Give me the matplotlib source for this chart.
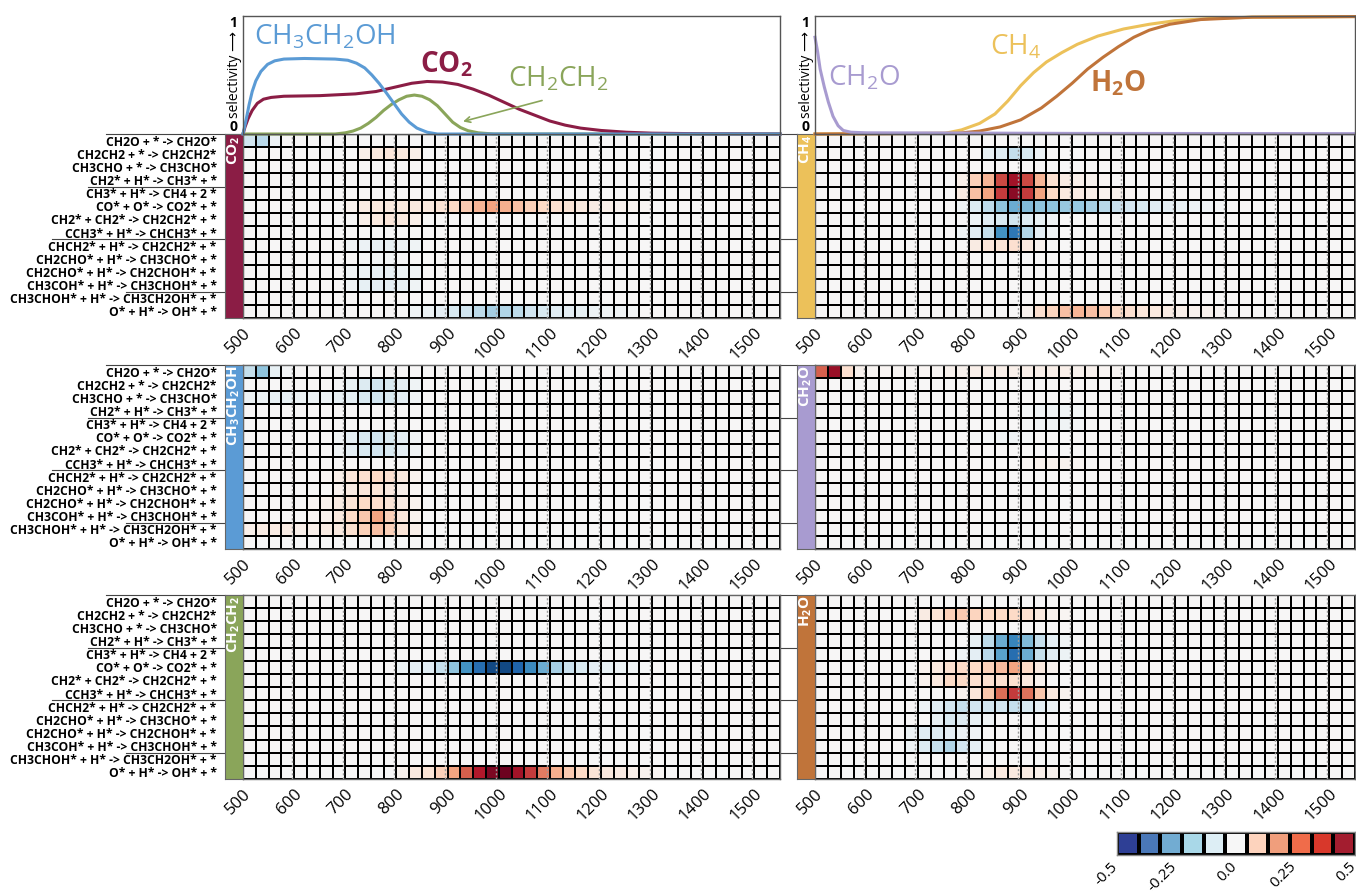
import numpy as np
import matplotlib
matplotlib.use('Agg')
import matplotlib.pyplot as plt
import matplotlib.transforms as mtransforms
from matplotlib.lines import Line2D
from matplotlib.colors import ListedColormap

plt.rcParams['font.family'] = ['Open Sans', 'DejaVu Sans']
plt.rcParams['mathtext.fontset'] = 'custom'
plt.rcParams['mathtext.rm'] = 'Open Sans'
plt.rcParams['mathtext.bf'] = 'Open Sans:bold'
plt.rcParams['mathtext.it'] = 'Open Sans:italic'
plt.rcParams['mathtext.default'] = 'regular'

# ---------------- data ----------------
reactions = [
    "CH2O + * -> CH2O*",
    "CH2CH2 + * -> CH2CH2*",
    "CH3CHO + * -> CH3CHO*",
    "CH2* + H* -> CH3* + *",
    "CH3* + H* -> CH4 + 2 *",
    "CO* + O* -> CO2* + *",
    "CH2* + CH2* -> CH2CH2* + *",
    "CCH3* + H* -> CHCH3* + *",
    "CHCH2* + H* -> CH2CH2* + *",
    "CH2CHO* + H* -> CH3CHO* + *",
    "CH2CHO* + H* -> CH2CHOH* + *",
    "CH3COH* + H* -> CH3CHOH* + *",
    "CH3CHOH* + H* -> CH3CH2OH* + *",
    "O* + H* -> OH* + *",
]
t_step = 25
t_start, t_end = 500, 1550
temp_ticks = [500, 600, 700, 800, 900, 1000, 1100, 1200, 1300, 1400, 1500]

# sensitivity cells: row -> (first temperature, values of consecutive cells); other cells are 0
co2_sens = {
    0: (500, [-0.10, -0.14, -0.03]),
    1: (725, [0.03, 0.05, 0.06, 0.05, 0.03]),
    5: (700, [0.02, 0.04, 0.05, 0.05, 0.05, 0.05, 0.05, 0.07, 0.10, 0.13, 0.17, 0.20,
              0.18, 0.15, 0.12, 0.10, 0.08, 0.07, 0.05, 0.04, 0.03, 0.02, 0.015, 0.01]),
    6: (725, [0.03, 0.05, 0.06, 0.05, 0.03]),
    8: (700, [-0.02, -0.03, -0.04, -0.04, -0.03, -0.02]),
    9: (725, [-0.01, -0.02, -0.02, -0.01]),
    10: (700, [-0.02, -0.03, -0.04, -0.04, -0.03, -0.02]),
    11: (700, [-0.02, -0.04, -0.05, -0.05, -0.04, -0.02]),
    13: (825, [-0.02, -0.03, -0.05, -0.08, -0.10, -0.13, -0.17, -0.15, -0.13, -0.10,
               -0.08, -0.06, -0.05, -0.04, -0.03, -0.02, -0.02, -0.01]),
}
ch3ch2oh_sens = {
    0: (500, [-0.12, -0.20, -0.04, -0.01]),
    1: (675, [-0.01, -0.04, -0.07, -0.10, -0.08, -0.05, -0.02]),
    2: (500, [-0.03, -0.03, -0.04, -0.04, -0.03, -0.03, -0.03, -0.04, -0.05, -0.08,
              -0.10, -0.08, -0.05, -0.02]),
    5: (675, [-0.02, -0.05, -0.08, -0.10, -0.08, -0.05, -0.02]),
    6: (675, [-0.02, -0.05, -0.08, -0.10, -0.08, -0.05, -0.02]),
    8: (650, [0.01, 0.03, 0.06, 0.08, 0.10, 0.08, 0.05, 0.02]),
    9: (675, [0.02, 0.04, 0.06, 0.07, 0.05, 0.03, 0.01]),
    10: (625, [0.01, 0.02, 0.04, 0.07, 0.10, 0.09, 0.07, 0.04, 0.02]),
    11: (625, [0.01, 0.02, 0.05, 0.10, 0.14, 0.20, 0.12, 0.06, 0.02]),
    12: (500, [0.03, 0.04, 0.04, 0.04, 0.03, 0.03, 0.04, 0.05, 0.08, 0.12, 0.15, 0.12,
               0.07, 0.03]),
}
ch2ch2_sens = {
    5: (800, [-0.03, -0.05, -0.06, -0.12, -0.20, -0.30, -0.38, -0.45, -0.45, -0.40,
              -0.32, -0.25, -0.17, -0.11, -0.08, -0.05, -0.04, -0.03, -0.02, -0.01]),
    13: (800, [0.02, 0.05, 0.07, 0.12, 0.20, 0.30, 0.40, 0.47, 0.49, 0.42, 0.35, 0.26,
               0.18, 0.13, 0.10, 0.07, 0.05, 0.04, 0.03, 0.02, 0.01]),
}
ch4_sens = {
    1: (825, [-0.04, -0.07, -0.12, -0.08, -0.03]),
    3: (775, [0.03, 0.12, 0.17, 0.33, 0.42, 0.33, 0.17, 0.08, 0.04, 0.03, 0.02, 0.01]),
    4: (775, [0.04, 0.15, 0.20, 0.35, 0.45, 0.35, 0.20, 0.10, 0.05, 0.04, 0.03, 0.02,
              0.02, 0.01]),
    5: (775, [-0.02, -0.07, -0.13, -0.20, -0.25, -0.22, -0.20, -0.20, -0.19, -0.19,
              -0.17, -0.14, -0.11, -0.09, -0.08, -0.06, -0.05, -0.04, -0.03, -0.02, -0.01]),
    6: (800, [-0.03, -0.06, -0.08, -0.10, -0.07, -0.04, -0.02]),
    7: (775, [-0.02, -0.06, -0.12, -0.30, -0.36, -0.15, -0.05, -0.02]),
    8: (800, [0.04, 0.06, 0.07, 0.08, 0.05, 0.02]),
    13: (900, [0.02, 0.08, 0.11, 0.15, 0.17, 0.15, 0.13, 0.10, 0.08, 0.06, 0.05, 0.04,
               0.03, 0.02, 0.02, 0.01]),
}
ch2o_sens = {
    0: (500, [0.30, 0.43, 0.08, 0.02, 0.01, 0.01, 0.01, 0.01, 0.01, 0.01, 0.02, 0.02,
              0.03, 0.03, 0.03, 0.03, 0.03, 0.03, 0.03, 0.03, 0.02, 0.02, 0.01, 0.01]),
    3: (900, [-0.01, -0.02, -0.02, -0.02, -0.01]),
    4: (900, [-0.01, -0.02, -0.02, -0.02, -0.01]),
    5: (800, [-0.01, -0.01, -0.02, -0.02, -0.01]),
    7: (900, [0.01, 0.02, 0.02, 0.02, 0.01]),
}
h2o_sens = {
    1: (675, [0.01, 0.04, 0.07, 0.12, 0.13, 0.11, 0.10, 0.10, 0.10, 0.08, 0.05, 0.02, 0.01]),
    3: (800, [-0.04, -0.13, -0.25, -0.33, -0.22, -0.12, -0.05, -0.02]),
    4: (775, [-0.02, -0.05, -0.14, -0.27, -0.38, -0.25, -0.12, -0.06, -0.03]),
    5: (700, [0.02, 0.05, 0.08, 0.10, 0.10, 0.12, 0.16, 0.20, 0.10, 0.05, 0.02]),
    6: (700, [0.02, 0.05, 0.10, 0.10, 0.08, 0.08, 0.08, 0.08, 0.05, 0.02]),
    7: (775, [0.02, 0.06, 0.14, 0.28, 0.35, 0.27, 0.14, 0.05, 0.02, 0.01]),
    8: (700, [-0.03, -0.06, -0.10, -0.12, -0.10, -0.10, -0.10, -0.12, -0.08, -0.05, -0.03]),
    9: (725, [-0.04, -0.08, -0.07, -0.04, -0.02]),
    10: (675, [-0.03, -0.06, -0.07, -0.05, -0.03, -0.02]),
    11: (675, [-0.03, -0.07, -0.12, -0.15, -0.09, -0.05, -0.02]),
    13: (800, [0.01, 0.03, 0.05, 0.05, 0.04, 0.03, 0.02]),
}

# selectivity curves (temperature, selectivity)
ch3ch2oh_T = [500, 503, 507, 512, 518, 525, 535, 548, 562, 580, 620, 680, 705, 722, 738,
              752, 766, 780, 795, 810, 825, 840, 860, 880, 1550]
ch3ch2oh_S = [0.0, 0.06, 0.14, 0.25, 0.36, 0.45, 0.53, 0.59, 0.62, 0.635, 0.64, 0.635,
              0.625, 0.60, 0.56, 0.50, 0.43, 0.35, 0.26, 0.17, 0.10, 0.05, 0.015, 0.0, 0.0]
co2_T = [500, 504, 510, 518, 528, 540, 555, 580, 650, 720, 760, 800, 830, 860, 890, 920,
         950, 980, 1010, 1040, 1070, 1100, 1130, 1160, 1200, 1250, 1300, 1400, 1550]
co2_S = [0.0, 0.06, 0.13, 0.20, 0.26, 0.295, 0.31, 0.32, 0.325, 0.34, 0.36, 0.40, 0.43,
         0.445, 0.44, 0.42, 0.38, 0.33, 0.27, 0.21, 0.16, 0.11, 0.075, 0.05, 0.03, 0.015,
         0.007, 0.002, 0.0]
ch2ch2_T = [500, 680, 700, 715, 730, 745, 760, 775, 790, 805, 820, 835, 850, 865, 880,
            895, 910, 925, 940, 960, 990, 1550]
ch2ch2_S = [0.0, 0.0, 0.01, 0.025, 0.05, 0.09, 0.14, 0.20, 0.25, 0.29, 0.32, 0.33, 0.32,
            0.29, 0.24, 0.17, 0.10, 0.055, 0.028, 0.01, 0.0, 0.0]
ch2o_T = [500, 505, 510, 518, 526, 535, 545, 555, 570, 600, 800, 1000, 1550]
ch2o_S = [0.82, 0.70, 0.55, 0.40, 0.27, 0.15, 0.07, 0.03, 0.015, 0.01, 0.008, 0.005, 0.003]
ch4_T = [500, 753, 785, 820, 850, 875, 900, 925, 950, 980, 1010, 1050, 1100, 1150, 1200,
         1270, 1350, 1550]
ch4_S = [0.0, 0.006, 0.035, 0.09, 0.17, 0.28, 0.41, 0.52, 0.61, 0.69, 0.76, 0.83, 0.89,
         0.93, 0.96, 0.98, 0.99, 0.995]
h2o_T = [500, 777, 820, 860, 900, 940, 970, 1000, 1030, 1060, 1090, 1120, 1150, 1190,
         1250, 1350, 1550]
h2o_S = [0.0, 0.006, 0.025, 0.06, 0.12, 0.22, 0.32, 0.43, 0.55, 0.65, 0.74, 0.82, 0.88,
         0.93, 0.97, 0.99, 0.995]

cbar_ticks = [-0.5, -0.25, 0.0, 0.25, 0.5]
cbar_ticklabels = ['-0.5', '-0.25', '0.0', '0.25', '0.5']

# ---------------- styles ----------------
c_co2 = '#8b1d45'
c_etoh = '#5b9bd5'
c_c2h4 = '#8aa55a'
c_ch4 = '#ecc15a'
c_ch2o = '#a89bd0'
c_h2o = '#c0743a'
cbar_colors = ['#2e3f95', '#4a78b8', '#72acd2', '#a9d8e8', '#ddeef5', '#f7f7f7',
               '#fdd3bd', '#f09e7c', '#f06c4a', '#d8382b', '#a31d2f']

W, H = 1356, 893
fig = plt.figure(figsize=(W / 100, H / 100), dpi=100)


def add_ax(x0, y0, x1, y1):
    return fig.add_axes([x0 / W, 1 - y1 / H, (x1 - x0) / W, (y1 - y0) / H])


def build(sens):
    ncol = (t_end - t_start) // t_step
    M = np.zeros((len(reactions), ncol))
    for r, (t0, vals) in sens.items():
        c0 = (t0 - t_start) // t_step
        M[r, c0:c0 + len(vals)] = vals
    return M


T_edges = np.arange(t_start, t_end + 1, t_step)
col_x = {0: (225, 243, 780), 1: (797, 815, 1355)}
row_y = [(134, 318), (365, 549), (595, 779)]

panels = [
    (0, 0, co2_sens, c_co2, r'CO$_\mathbf{2}$'),
    (0, 1, ch3ch2oh_sens, c_etoh, r'CH$_\mathbf{3}$CH$_\mathbf{2}$OH'),
    (0, 2, ch2ch2_sens, c_c2h4, r'CH$_\mathbf{2}$CH$_\mathbf{2}$'),
    (1, 0, ch4_sens, c_ch4, r'CH$_\mathbf{4}$'),
    (1, 1, ch2o_sens, c_ch2o, r'CH$_\mathbf{2}$O'),
    (1, 2, h2o_sens, c_h2o, r'H$_\mathbf{2}$O'),
]

group_bounds = [0, 4, 8, 12]
group_starts = [106, 88, 52, 126]

for col, row, sens, color, lab in panels:
    bx0, hx0, hx1 = col_x[col]
    y0, y1 = row_y[row]
    if col == 0:
        for b, xs in zip(group_bounds, group_starts):
            yy = 1 - (y0 + b * (y1 - y0) / len(reactions)) / H
            fig.add_artist(Line2D([xs / W, 797 / W], [yy, yy], color='#444444',
                                  lw=0.8, zorder=-1))
    ax = add_ax(hx0, y0, hx1, y1)
    M = build(sens)
    ax.pcolormesh(T_edges, np.arange(len(reactions) + 1), M, cmap='RdBu_r',
                  vmin=-0.5, vmax=0.5, edgecolors='k', linewidth=1.3)
    ax.set_xlim(t_start, t_end)
    ax.set_ylim(len(reactions), 0)
    ax.set_yticks([])
    ax.set_xticks(temp_ticks)
    ax.set_xticklabels([str(t) for t in temp_ticks], rotation=45, ha='right',
                       rotation_mode='anchor', fontsize=12)
    ax.tick_params(axis='x', length=0, pad=5)
    trans = ax.get_xaxis_transform() + mtransforms.ScaledTranslation(-2.5 / 100, 0,
                                                                     fig.dpi_scale_trans)
    for t in temp_ticks[1:]:
        ax.plot([t, t], [0, 1], transform=trans, color='#9a9a9a', lw=1.0,
                ls=(0, (1.5, 1.5)), zorder=3)
    for s in ax.spines.values():
        s.set_color('#666666')
        s.set_linewidth(1.0)

    bar = add_ax(bx0, y0, hx0, y1)
    bar.set_facecolor(color)
    bar.set_xticks([])
    bar.set_ylim(len(reactions), 0)
    if col == 0:
        bar.set_yticks(np.arange(len(reactions)) + 0.5)
        bar.set_yticklabels(reactions, fontsize=8.7, fontweight='bold')
        bar.tick_params(axis='y', length=0, pad=6)
    else:
        bar.set_yticks([])
    for s in bar.spines.values():
        s.set_color('#666666')
        s.set_linewidth(0.8)
    bar.text(0.5, 0.995, lab, rotation=90, ha='center', va='top', color='white',
             fontweight='bold', fontsize=11, transform=bar.transAxes)

# ---------------- selectivity plots ----------------
lp_left = add_ax(243, 16, 780, 134)
lp_right = add_ax(815, 16, 1355, 134)
for lp in (lp_left, lp_right):
    lp.set_xlim(t_start, t_end)
    lp.set_ylim(0, 1)
    lp.set_xticks([])
    lp.set_yticks([0, 1])
    lp.set_yticklabels(['0', '1'], fontsize=10, fontweight='bold')
    lp.get_yticklabels()[0].set_va('bottom')
    lp.get_yticklabels()[1].set_va('top')
    lp.tick_params(axis='y', length=0, pad=4)
    for s in lp.spines.values():
        s.set_color('#555555')
        s.set_linewidth(1.0)
    lp.text(-0.016, 0.5, 'selectivity \u27f6', rotation=90, ha='center', va='center',
            fontsize=10, transform=lp.transAxes)

lp_left.plot(ch2ch2_T, ch2ch2_S, color=c_c2h4, lw=2.2, clip_on=False)
lp_left.plot(co2_T, co2_S, color=c_co2, lw=2.2, clip_on=False)
lp_left.plot(ch3ch2oh_T, ch3ch2oh_S, color=c_etoh, lw=2.2, clip_on=False)
lp_left.text(521, 0.755, r'CH$_3$CH$_2$OH', color=c_etoh, fontsize=20, va='baseline')
lp_left.text(846, 0.525, r'CO$_\mathbf{2}$', color=c_co2, fontsize=20, fontweight='bold',
             va='baseline')
lp_left.text(1018, 0.40, r'CH$_2$CH$_2$', color=c_c2h4, fontsize=20, va='baseline')
lp_left.annotate('', xy=(925, 0.10), xytext=(1090, 0.29),
                 arrowprops=dict(arrowstyle='->', color=c_c2h4, lw=1.2))

lp_right.plot(ch4_T, ch4_S, color=c_ch4, lw=2.2, clip_on=False)
lp_right.plot(h2o_T, h2o_S, color=c_h2o, lw=2.2, clip_on=False)
lp_right.plot(ch2o_T, ch2o_S, color=c_ch2o, lw=2.2, clip_on=False)
lp_right.text(525, 0.415, r'CH$_2$O', color=c_ch2o, fontsize=20, va='baseline')
lp_right.text(840, 0.67, r'CH$_4$', color=c_ch4, fontsize=20, va='baseline')
lp_right.text(1035, 0.36, r'H$_\mathbf{2}$O', color=c_h2o, fontsize=20, fontweight='bold',
              va='baseline')

# ---------------- colorbar ----------------
cax = add_ax(1117, 832, 1355, 855)
bounds = np.linspace(-0.5, 0.5, len(cbar_colors) + 1)
cax.pcolormesh(bounds, [0, 1], np.arange(len(cbar_colors))[None, :],
               cmap=ListedColormap(cbar_colors), vmin=-0.5, vmax=len(cbar_colors) - 0.5,
               edgecolors='k', linewidth=1.5)
cax.set_xlim(-0.5, 0.5)
cax.set_ylim(0, 1)
cax.set_yticks([])
cax.set_xticks(cbar_ticks)
cax.set_xticklabels(cbar_ticklabels, rotation=45, ha='right', va='top',
                    rotation_mode='anchor', fontsize=11)
cax.tick_params(axis='x', length=0, pad=3)
shift = mtransforms.ScaledTranslation(-7 / 100, 0, fig.dpi_scale_trans)
for lbl in cax.get_xticklabels():
    lbl.set_transform(lbl.get_transform() + shift)
for s in cax.spines.values():
    s.set_color('#888888')
    s.set_linewidth(1.0)

fig.savefig('out.png', dpi=100)
